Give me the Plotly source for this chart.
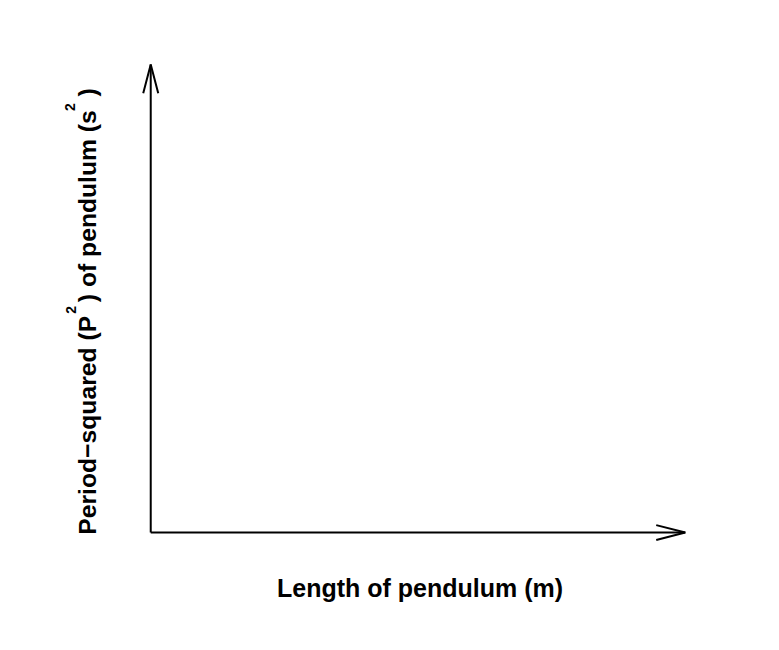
import plotly.graph_objects as go

# Empty axes: only two arrows plus labels
x_arrow = [0.0, 1.0]          # x axis arrow from / to (data units)
y_arrow = [0.0, 1.0]          # y axis arrow from / to (data units)

x_title = "Length of pendulum (m)"
y_title_main = "Period\u2212squared (P\u00a0\u00a0) of pendulum (s\u00a0\u00a0)"
sup_text = "2"

W, H = 779, 650
OFF = 8                        # page body margin of the html
pad = 0.05
px_x0, px_x1 = 151 - OFF, 685 - OFF   # figure px of x data 0 / 1
px_y0, px_y1 = 533 - OFF, 64 - OFF    # figure px of y data 0 / 1
ux = px_x1 - px_x0
uy = px_y0 - px_y1
L = px_x0 - pad * ux
R = W - (px_x1 + pad * ux)
T = px_y1 - pad * uy
B = H - (px_y0 + pad * uy)

head_len_px, head_half_px = 29, 7.5
hx, wx = head_len_px / ux, head_half_px / ux
hy, wy = head_len_px / uy, head_half_px / uy

x0, x1 = x_arrow
y0, y1 = y_arrow

fig = go.Figure()
line = dict(color="black", width=2)
fig.add_trace(go.Scatter(x=[x0, x1], y=[y0, y0], mode="lines", line=line, hoverinfo="skip"))
fig.add_trace(go.Scatter(x=[x1 - hx, x1, x1 - hx], y=[y0 + wy, y0, y0 - wy],
                         mode="lines", line=line, hoverinfo="skip"))
fig.add_trace(go.Scatter(x=[x0, x0], y=[y0, y1], mode="lines", line=line, hoverinfo="skip"))
fig.add_trace(go.Scatter(x=[x0 - wx, x0, x0 + wx], y=[y1 - hy, y1, y1 - hy],
                         mode="lines", line=line, hoverinfo="skip"))

fam = "Liberation Sans, Arial, Helvetica, sans-serif"
font = dict(family=fam, size=25, color="black")
yfont = dict(family=fam, size=24.7, color="black")
sfont = dict(family=fam, size=14, color="black")

fig.add_annotation(text="<b>" + x_title + "</b>", xref="x", yref="y",
                   x=(420 - 151) / 534, y=0, xanchor="center", yanchor="middle",
                   yshift=-55, showarrow=False, font=font)
fig.add_annotation(text="<b>" + y_title_main + "</b>", xref="x", yref="y",
                   x=0, y=(533 - 312) / 469, xanchor="center", yanchor="middle",
                   xshift=-63, textangle=-90, showarrow=False, font=yfont)
# superscripts, raised as in the original
for ypage in (310, 107):
    fig.add_annotation(text="<b>" + sup_text + "</b>", xref="x", yref="y",
                       x=0, y=(533 - ypage) / 469, xanchor="center", yanchor="middle",
                       xshift=-80, textangle=-90, showarrow=False, font=sfont)

fig.update_layout(
    width=W, height=H,
    margin=dict(l=L, r=R, t=T, b=B, pad=0),
    paper_bgcolor="white", plot_bgcolor="white",
    showlegend=False,
    xaxis=dict(range=[-pad, 1 + pad], visible=False, fixedrange=True),
    yaxis=dict(range=[-pad, 1 + pad], visible=False, fixedrange=True),
)
fig.write_html("out.html")
